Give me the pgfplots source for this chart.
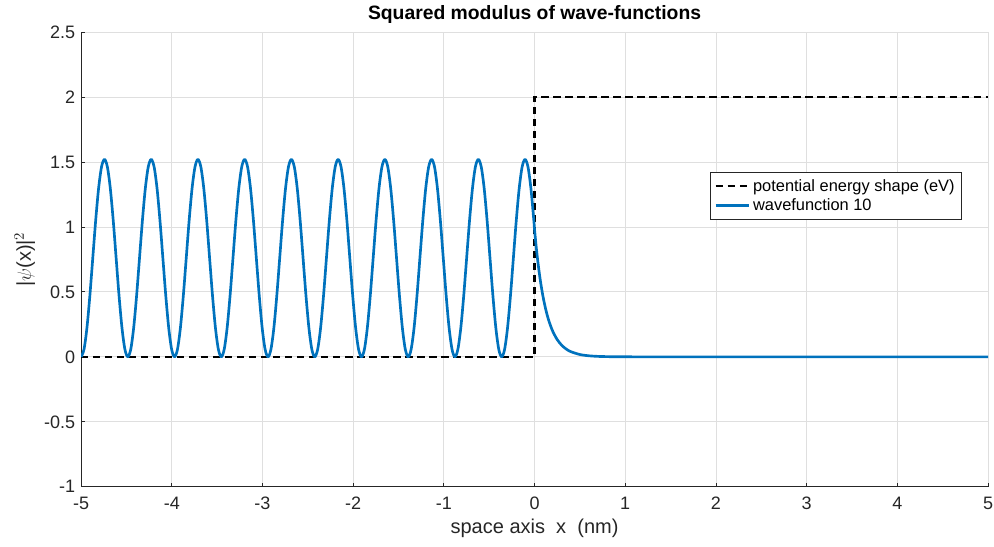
\documentclass[border=0pt]{standalone}
\usepackage{fontspec}
\setmainfont{Liberation Sans}
\usepackage{pgfplots}
\pgfplotsset{compat=1.18}
\definecolor{mblue}{RGB}{0,114,189}
\definecolor{mgrid}{RGB}{223,223,223}
\definecolor{maxis}{RGB}{38,38,38}

\pgfplotstableread{
x y
-5.0000 0
-4.9678 0.0579
-4.9356 0.2226
-4.9034 0.4692
-4.8712 0.7600
-4.8390 1.0508
-4.8068 1.2974
-4.7746 1.4621
-4.7423 1.5200
-4.7101 1.4621
-4.6779 1.2974
-4.6457 1.0508
-4.6135 0.7600
-4.5813 0.4692
-4.5491 0.2226
-4.5169 0.0579
-4.4847 0
-4.4525 0.0579
-4.4203 0.2226
-4.3881 0.4692
-4.3559 0.7600
-4.3237 1.0508
-4.2915 1.2974
-4.2593 1.4621
-4.2270 1.5200
-4.1948 1.4621
-4.1626 1.2974
-4.1304 1.0508
-4.0982 0.7600
-4.0660 0.4692
-4.0338 0.2226
-4.0016 0.0579
-3.9694 0
-3.9372 0.0579
-3.9050 0.2226
-3.8728 0.4692
-3.8406 0.7600
-3.8084 1.0508
-3.7762 1.2974
-3.7440 1.4621
-3.7117 1.5200
-3.6795 1.4621
-3.6473 1.2974
-3.6151 1.0508
-3.5829 0.7600
-3.5507 0.4692
-3.5185 0.2226
-3.4863 0.0579
-3.4541 0
-3.4219 0.0579
-3.3897 0.2226
-3.3575 0.4692
-3.3253 0.7600
-3.2931 1.0508
-3.2609 1.2974
-3.2287 1.4621
-3.1964 1.5200
-3.1642 1.4621
-3.1320 1.2974
-3.0998 1.0508
-3.0676 0.7600
-3.0354 0.4692
-3.0032 0.2226
-2.9710 0.0579
-2.9388 0
-2.9066 0.0579
-2.8744 0.2226
-2.8422 0.4692
-2.8100 0.7600
-2.7778 1.0508
-2.7456 1.2974
-2.7134 1.4621
-2.6811 1.5200
-2.6489 1.4621
-2.6167 1.2974
-2.5845 1.0508
-2.5523 0.7600
-2.5201 0.4692
-2.4879 0.2226
-2.4557 0.0579
-2.4235 0
-2.3913 0.0579
-2.3591 0.2226
-2.3269 0.4692
-2.2947 0.7600
-2.2625 1.0508
-2.2303 1.2974
-2.1981 1.4621
-2.1658 1.5200
-2.1336 1.4621
-2.1014 1.2974
-2.0692 1.0508
-2.0370 0.7600
-2.0048 0.4692
-1.9726 0.2226
-1.9404 0.0579
-1.9082 0
-1.8760 0.0579
-1.8438 0.2226
-1.8116 0.4692
-1.7794 0.7600
-1.7472 1.0508
-1.7150 1.2974
-1.6828 1.4621
-1.6505 1.5200
-1.6183 1.4621
-1.5861 1.2974
-1.5539 1.0508
-1.5217 0.7600
-1.4895 0.4692
-1.4573 0.2226
-1.4251 0.0579
-1.3929 0
-1.3607 0.0579
-1.3285 0.2226
-1.2963 0.4692
-1.2641 0.7600
-1.2319 1.0508
-1.1997 1.2974
-1.1675 1.4621
-1.1352 1.5200
-1.1030 1.4621
-1.0708 1.2974
-1.0386 1.0508
-1.0064 0.7600
-0.9742 0.4692
-0.9420 0.2226
-0.9098 0.0579
-0.8776 0
-0.8454 0.0579
-0.8132 0.2226
-0.7810 0.4692
-0.7488 0.7600
-0.7166 1.0508
-0.6844 1.2974
-0.6522 1.4621
-0.6199 1.5200
-0.5877 1.4621
-0.5555 1.2974
-0.5233 1.0508
-0.4911 0.7600
-0.4589 0.4692
-0.4267 0.2226
-0.3945 0.0579
-0.3623 0
-0.3301 0.0579
-0.2979 0.2226
-0.2657 0.4692
-0.2335 0.7600
-0.2013 1.0508
-0.1691 1.2974
-0.1369 1.4621
-0.1046 1.5200
-0.0724 1.4621
-0.0402 1.2974
-0.0080 1.0508
0.0000 0.9800
0.0200 0.8351
0.0400 0.7116
0.0600 0.6064
0.0800 0.5168
0.1000 0.4403
0.1300 0.3464
0.1600 0.2724
0.2000 0.1979
0.2500 0.1326
0.3000 0.0889
0.3500 0.0596
0.4000 0.0399
0.5000 0.0179
0.6000 0.0081
0.7000 0.0036
0.8000 0.0017
0.9000 0.0007
1.0000 0.0003
1.5000 0
5.0000 0
}\wavedata

\begin{document}
\begin{tikzpicture}
\begin{axis}[
  name=ax,
  scale only axis, width=680pt, height=341pt,
  xmin=-5, xmax=5, ymin=-1, ymax=2.5,
  xtick={-5,-4,...,5}, ytick={-1,-0.5,0,0.5,1,1.5,2,2.5},
  /pgf/number format/assume math mode=true,
  yticklabel style={/pgf/number format/fixed, xshift=-1pt},
  tick label style={font=\fontsize{13.5}{16}\selectfont, text=maxis},
  xticklabel style={yshift=-4pt},
  axis lines*=left,
  tick align=inside, major tick length=3pt,
  every tick/.style={maxis, line width=0.6pt},
  axis line style={maxis, line width=0.6pt, -},
  grid=major, major grid style={mgrid, line width=0.6pt},
  title={\bfseries Squared modulus of wave-functions},
  every axis title/.style={at={(0.5,1)}, anchor=center, yshift=13pt,
    font=\fontsize{14.5}{17}\selectfont},
  xlabel={space axis\ \ x\ \ (nm)},
  ylabel={|$\psi$(x)|$^2$},
  label style={font=\fontsize{15}{18}\selectfont, text=maxis},
  xlabel style={at={(axis description cs:0.5,0)}, anchor=center, yshift=-31pt},
  ylabel style={at={(axis description cs:-0.062,0.5)}, anchor=center},
  legend style={at={(0.971,0.692)}, anchor=north east, font=\fontsize{12.3}{14}\selectfont,
    draw=maxis, line width=0.6pt, fill=white, inner sep=3pt, row sep=0pt},
  legend cell align=left,
  legend image code/.code={\draw[#1] (0pt,0pt) -- (25pt,0pt);},
]
\addplot[black, line width=2pt, dash pattern=on 5.5pt off 3.5pt]
  coordinates {(-5,0) (0,0) (0,2) (5,2)};
\addlegendentry{potential energy shape (eV)}
\addplot[mblue, line width=2pt, smooth, line join=round] table {\wavedata};
\addlegendentry{wavefunction 10}
\end{axis}
\pgfresetboundingbox
\path ([shift={(-60.8pt,-45pt)}]ax.south west) rectangle ([shift={(4.5pt,24pt)}]ax.north east);
\end{tikzpicture}
\end{document}
